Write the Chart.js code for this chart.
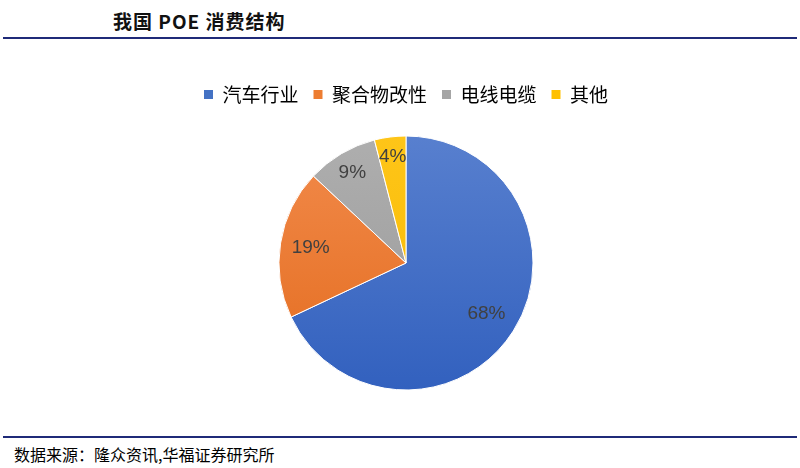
<!DOCTYPE html>
<html>
<head>
<meta charset="utf-8">
<script src="https://cdn.jsdelivr.net/npm/chart.js@4.4.0/dist/chart.umd.min.js"></script>
<style>
  html, body { margin: 0; padding: 0; background: #fff; width: 800px; height: 468px; overflow: hidden; }
  #title { position: absolute; left: 113px; top: 7px; font: bold 19px "Noto Sans CJK SC", sans-serif; color: #111; letter-spacing: 1px; }
  #topline { position: absolute; left: 3px; right: 3px; top: 37px; height: 2px; background: #1f2a78; }
  #bottomline { position: absolute; left: 3px; right: 3px; top: 436px; height: 2px; background: #1f2a78; }
  #source { position: absolute; left: 14px; top: 442px; font: 16px "Noto Sans CJK SC", sans-serif; color: #000; }
  #wrap { position: absolute; left: 6px; top: 40px; width: 800px; height: 390px; }
</style>
</head>
<body>
<div id="title">我国 POE 消费结构</div>
<div id="topline"></div>
<div id="wrap"><canvas id="pie"></canvas></div>
<div id="bottomline"></div>
<div id="source">数据来源：隆众资讯,华福证券研究所</div>
<script>
const categories = ["汽车行业", "聚合物改性", "电线电缆", "其他"];
const shares = [68, 19, 9, 4];

const flatColors = ["#4472C4", "#ED7D31", "#A5A5A5", "#FFC000"];
const topColors = ["#5B82D0", "#F38D4F", "#B0B0B0", "#FFC61A"];
const bottomColors = ["#2F5EBD", "#E2691A", "#979797", "#F5B800"];
const labelRadius = [0.75, 0.76, 0.83, 0.84];

function sliceFill(ctx) {
    const chart = ctx.chart;
    const area = chart.chartArea;
    if (!area) return flatColors[ctx.dataIndex];
    const g = chart.ctx.createLinearGradient(0, area.top, 0, area.bottom);
    g.addColorStop(0, topColors[ctx.dataIndex]);
    g.addColorStop(1, bottomColors[ctx.dataIndex]);
    return g;
}

const percentLabels = {
    id: "percentLabels",
    afterDatasetsDraw(chart) {
        const c = chart.ctx;
        const meta = chart.getDatasetMeta(0);
        c.save();
        c.font = "19px 'Liberation Sans', Arial, sans-serif";
        c.fillStyle = "#404040";
        c.textAlign = "center";
        c.textBaseline = "middle";
        meta.data.forEach(function (arc, i) {
            const mid = (arc.startAngle + arc.endAngle) / 2;
            const r = arc.outerRadius * labelRadius[i];
            c.fillText(shares[i] + "%", arc.x + Math.cos(mid) * r, arc.y + Math.sin(mid) * r);
        });
        c.restore();
    }
};

new Chart(document.getElementById("pie").getContext("2d"), {
    type: "pie",
    data: {
        labels: categories,
        datasets: [{
            data: shares,
            backgroundColor: sliceFill,
            borderColor: "#ffffff",
            borderWidth: 1,
            radius: 127
        }]
    },
    options: {
        responsive: true,
        maintainAspectRatio: false,
        animation: false,
        layout: { padding: { top: 30, bottom: 18 } },
        plugins: {
            tooltip: { enabled: false },
            legend: {
                position: "top",
                labels: {
                    boxWidth: 9,
                    boxHeight: 9,
                    padding: 15,
                    color: "#595959",
                    font: { size: 19, family: "'Noto Sans CJK SC', sans-serif" },
                    generateLabels: function (chart) {
                        return categories.map(function (name, i) {
                            return {
                                text: name,
                                fillStyle: flatColors[i],
                                strokeStyle: flatColors[i],
                                lineWidth: 0,
                                index: i,
                                hidden: false
                            };
                        });
                    }
                }
            }
        }
    },
    plugins: [percentLabels]
});
</script>
</body>
</html>
